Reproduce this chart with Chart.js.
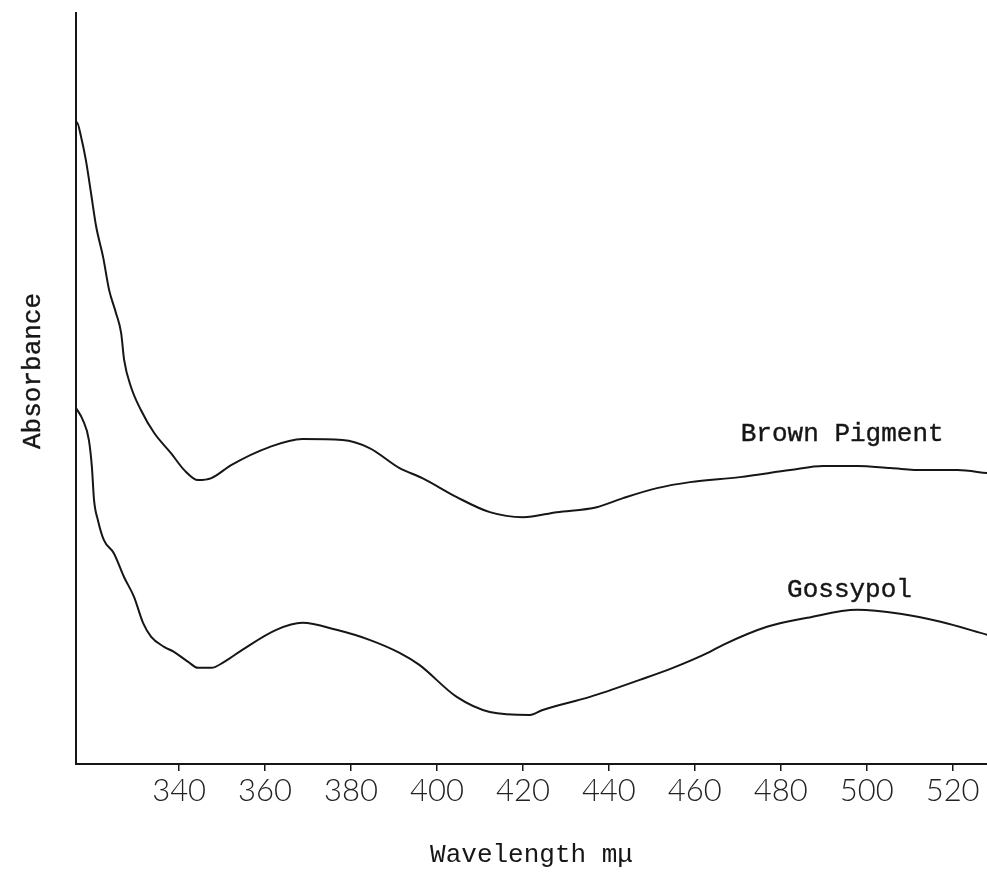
<!DOCTYPE html>
<html>
<head>
<meta charset="utf-8">
<script src="https://cdn.jsdelivr.net/npm/chart.js@4.4.1/dist/chart.umd.min.js"></script>
<style>
  body { margin: 0; background: #fff; }
  canvas { display: block; }
</style>
</head>
<body>
<canvas id="spectrum" width="987" height="881"></canvas>
<script>
// Wavelength (mμ) and absorbance
const brownWavelength = [316, 316.2, 317.2, 318.3, 319.5, 320.7, 322.3, 323.7, 325.3, 326.5, 327.2, 328.8, 331.1, 334.2, 338.1, 341.2, 344.4, 347.5, 352.1, 361, 368.7, 378, 384.3, 391.3, 396.6, 404.6, 412.3, 420, 427.9, 437.2, 443.3, 451.2, 458.9, 470.5, 482.2, 489.9, 497.8, 505.5, 513.2, 521.1, 528.1];
const brownAbsorbance = [1.276, 1.282, 1.252, 1.206, 1.140, 1.073, 1.013, 0.947, 0.901, 0.861, 0.807, 0.753, 0.707, 0.661, 0.621, 0.587, 0.567, 0.571, 0.597, 0.633, 0.649, 0.647, 0.631, 0.591, 0.571, 0.533, 0.503, 0.493, 0.503, 0.513, 0.531, 0.551, 0.563, 0.573, 0.587, 0.595, 0.595, 0.591, 0.587, 0.587, 0.581];

const gossypolWavelength = [316, 317.6, 319, 319.7, 320.2, 321.1, 322.5, 324.8, 327.2, 329.5, 331.6, 333.5, 336.5, 338.8, 342.1, 344.4, 347.5, 350.5, 354.7, 362.6, 368.7, 376.6, 384.3, 391.3, 395.9, 404.6, 412.3, 421.6, 424.6, 435.6, 447.2, 454.9, 463.5, 466.6, 476.8, 486.2, 497.8, 507.8, 517.2, 528.1];
const gossypolAbsorbance = [0.711, 0.687, 0.647, 0.593, 0.527, 0.487, 0.447, 0.421, 0.373, 0.334, 0.282, 0.254, 0.234, 0.224, 0.204, 0.192, 0.192, 0.204, 0.228, 0.268, 0.282, 0.268, 0.248, 0.222, 0.198, 0.134, 0.104, 0.098, 0.108, 0.134, 0.168, 0.192, 0.224, 0.238, 0.274, 0.292, 0.308, 0.300, 0.284, 0.258];

const tickValues = [340, 360, 380, 400, 420, 440, 460, 480, 500, 520];

// Curve labels, placed in data units
const curveLabels = ['Brown Pigment', 'Gossypol'];
const labelWavelength = [494.3, 496];
const labelAbsorbance = [0.645, 0.334];

const typewriter = "'Liberation Mono', 'Courier New', monospace";
const ink = '#161616';

function toPoints(xs, ys) {
    return xs.map((x, i) => ({ x: x, y: ys[i] }));
}

// Draws the hand-placed text: curve names and the y axis title
const labelPlugin = {
    id: 'curveLabels',
    afterDraw(chart) {
        const ctx = chart.ctx;
        const xs = chart.scales.x;
        const ys = chart.scales.y;
        ctx.save();
        ctx.fillStyle = ink;
        ctx.strokeStyle = ink;
        ctx.lineWidth = 0.4;
        ctx.font = '26px ' + typewriter;
        ctx.textAlign = 'center';
        ctx.textBaseline = 'alphabetic';
        curveLabels.forEach((text, i) => {
            const px = xs.getPixelForValue(labelWavelength[i]);
            const py = ys.getPixelForValue(labelAbsorbance[i]);
            ctx.fillText(text, px, py);
            ctx.strokeText(text, px, py);
        });
        // y axis title, reads bottom to top
        ctx.translate(33, ys.getPixelForValue(0.785));
        ctx.rotate(-Math.PI / 2);
        ctx.textBaseline = 'middle';
        ctx.fillText('Absorbance', 0, 0);
        ctx.strokeText('Absorbance', 0, 0);
        ctx.restore();
    }
};

const ctx = document.getElementById('spectrum').getContext('2d');
const spectrumChart = new Chart(ctx, {
    type: 'line',
    data: {
        datasets: [
            {
                label: 'Brown Pigment',
                data: toPoints(brownWavelength, brownAbsorbance),
                borderColor: ink,
                borderWidth: 2,
                pointRadius: 0,
                cubicInterpolationMode: 'monotone'
            },
            {
                label: 'Gossypol',
                data: toPoints(gossypolWavelength, gossypolAbsorbance),
                borderColor: ink,
                borderWidth: 2,
                pointRadius: 0,
                cubicInterpolationMode: 'monotone'
            }
        ]
    },
    options: {
        responsive: false,
        animation: false,
        layout: { padding: { top: 13, left: 0, right: 0, bottom: 0 } },
        plugins: {
            legend: { display: false },
            tooltip: { enabled: false }
        },
        scales: {
            x: {
                type: 'linear',
                min: 316,
                max: 528,
                afterBuildTicks: scale => {
                    scale.ticks = tickValues.map(v => ({ value: v }));
                },
                afterFit: scale => { scale.height = 117; },
                grid: {
                    drawOnChartArea: false,
                    drawTicks: true,
                    tickLength: 7,
                    color: ink,
                    lineWidth: 1.5
                },
                border: { color: ink, width: 2 },
                ticks: {
                    color: '#222',
                    padding: 1,
                    maxRotation: 0,
                    font: { family: "Lato, 'Open Sans', sans-serif", size: 31, weight: 300 }
                },
                title: {
                    display: true,
                    text: 'Wavelength mμ',
                    color: ink,
                    padding: { top: 0, bottom: 10 },
                    font: { family: typewriter, size: 26 }
                }
            },
            y: {
                min: 0,
                max: 1.5,
                afterFit: scale => { scale.width = 76; },
                grid: { display: false },
                border: { color: ink, width: 2 },
                ticks: { display: false }
            }
        }
    },
    plugins: [labelPlugin]
});
</script>
</body>
</html>
